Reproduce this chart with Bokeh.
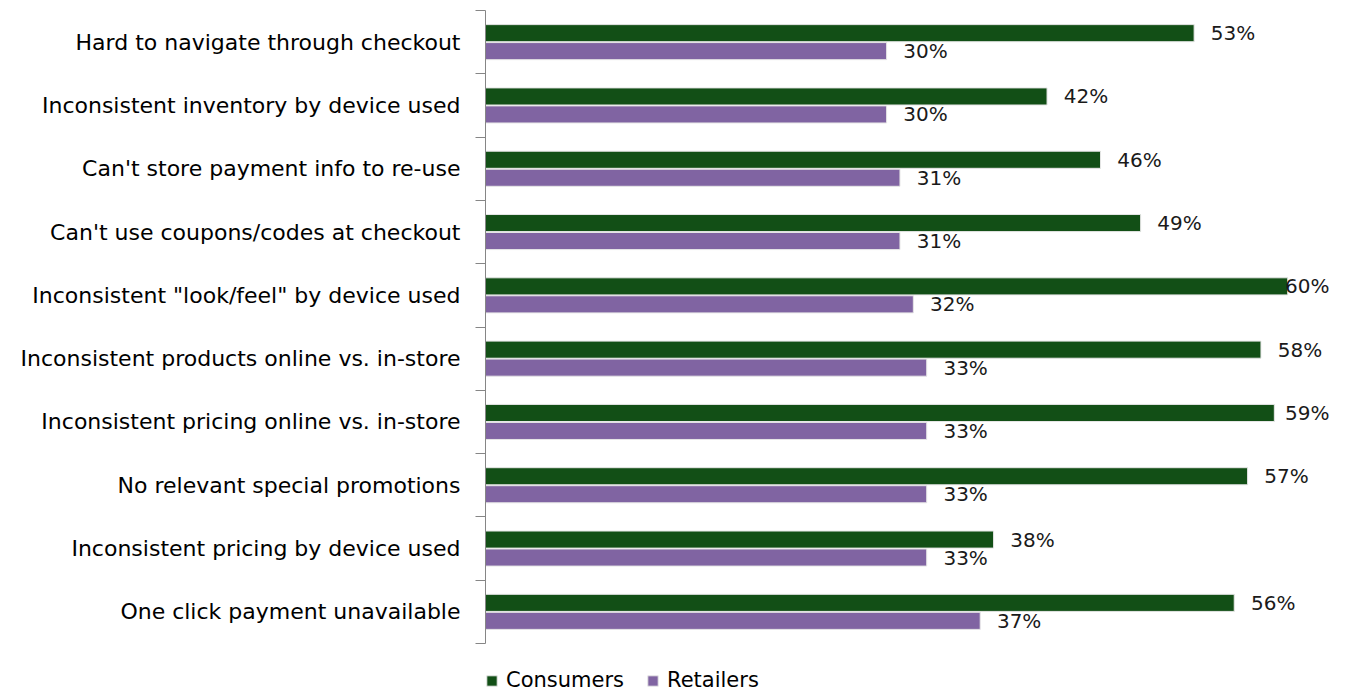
import numpy as np
from bokeh.plotting import figure
from bokeh.models import ColumnDataSource, Range1d, FixedTicker, Legend, LegendItem
from bokeh.transform import dodge
from bokeh.core.properties import value
from bokeh.embed import file_html
from bokeh.resources import INLINE

categories = [
    "Hard to navigate through checkout",
    "Inconsistent inventory by device used",
    "Can't store payment info to re-use",
    "Can't use coupons/codes at checkout",
    "Inconsistent \"look/feel\" by device used",
    "Inconsistent products online vs. in-store",
    "Inconsistent pricing online vs. in-store",
    "No relevant special promotions",
    "Inconsistent pricing by device used",
    "One click payment unavailable",
]
consumers = [53, 42, 46, 49, 60, 58, 59, 57, 38, 56]
retailers = [30, 30, 31, 31, 32, 33, 33, 33, 33, 37]
series_names = ["Consumers", "Retailers"]

GREEN = "#124f16"
PURPLE = "#8064a2"
FONT = "DejaVu Sans"

n = len(categories)
ypos = np.arange(n)[::-1].astype(float)
XMAX = 63.5
label_cap = 59.8
# extra room below the last category for the legend (in category units)
legend_room = 49 / 63.3

src = ColumnDataSource(dict(
    y=ypos,
    cons=consumers,
    ret=retailers,
    cons_lx=np.minimum(np.array(consumers) + 1.25, label_cap),
    ret_lx=np.minimum(np.array(retailers) + 1.25, label_cap),
    cons_t=[f"{v}%" for v in consumers],
    ret_t=[f"{v}%" for v in retailers],
))

p = figure(width=1347, height=692, output_backend="svg", toolbar_location=None,
           x_range=Range1d(0, XMAX), y_range=Range1d(-0.5 - legend_room, n - 0.5),
           x_axis_location=None,
           min_border_left=485, min_border_right=13, min_border_top=10,
           min_border_bottom=0)
p.outline_line_color = None
p.xgrid.visible = False
p.ygrid.visible = False
p.background_fill_color = "white"
p.border_fill_color = "white"

off = 0.142
h = 0.27
r1 = p.hbar(y=dodge("y", off), right="cons", left=0, height=h, source=src,
            fill_color=GREEN, line_color="#e6e6e6", line_width=1)
r2 = p.hbar(y=dodge("y", -off), right="ret", left=0, height=h, source=src,
            fill_color=PURPLE, line_color="#e6e6e6", line_width=1)

p.text(x="cons_lx", y=dodge("y", off), text="cons_t", source=src,
       text_font=value(FONT), text_font_size="20px", text_color="#1a1a1a",
       text_align="left", text_baseline="middle")
p.text(x="ret_lx", y=dodge("y", -off), text="ret_t", source=src,
       text_font=value(FONT), text_font_size="20px", text_color="#1a1a1a",
       text_align="left", text_baseline="middle")

yax = p.yaxis[0]
yax.ticker = FixedTicker(ticks=list(ypos), minor_ticks=list(np.arange(-0.5, n, 1.0)))
yax.major_label_overrides = {float(y): c for y, c in zip(ypos, categories)}
yax.bounds = (-0.5, n - 0.5)
yax.major_tick_out = 0
yax.major_tick_in = 0
yax.minor_tick_out = 10
yax.minor_tick_in = 0
yax.minor_tick_line_color = "#868686"
yax.axis_line_color = "#868686"
yax.major_label_standoff = 15
yax.major_label_text_font = FONT
yax.major_label_text_font_size = "22px"
yax.major_label_text_color = "#000000"

legend = Legend(items=[LegendItem(label=series_names[0], renderers=[r1]),
                       LegendItem(label=series_names[1], renderers=[r2])],
                orientation="horizontal", location=(0, 0),
                glyph_width=13, glyph_height=13, label_text_font=FONT,
                label_text_font_size="21px", label_text_color="#000000",
                spacing=22, padding=0, margin=0, label_standoff=8,
                border_line_color=None, background_fill_alpha=0)
p.add_layout(legend, "center")

open("out.html", "w").write(file_html(p, INLINE))
